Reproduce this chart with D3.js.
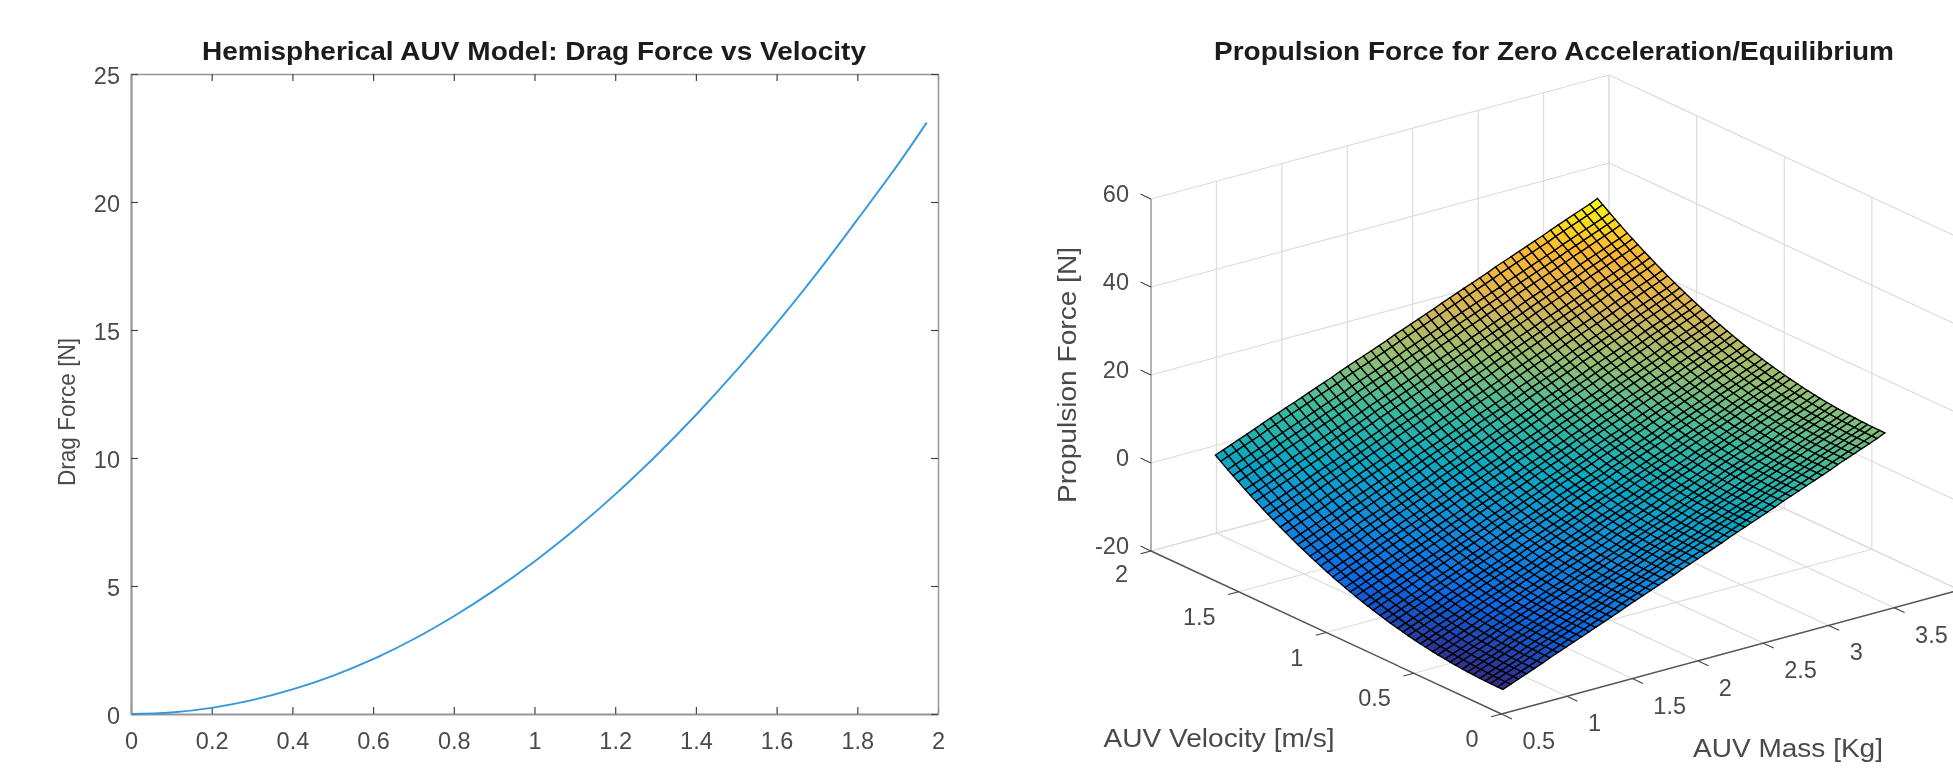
<!DOCTYPE html>
<html>
<head>
<meta charset="utf-8">
<script src="https://d3js.org/d3.v7.min.js"></script>
<style>
  html, body { margin: 0; padding: 0; background: #fff; overflow: hidden; }
  text { font-family: "Liberation Sans", Arial, sans-serif; }
</style>
</head>
<body>
<div id="drawing"></div>
<script>
const width = 1953;
const height = 769;

// left plot
const dragVelocity = [0, 0.1, 0.2, 0.3, 0.4, 0.5, 0.6, 0.7, 0.8, 0.9, 1, 1.1, 1.2, 1.3, 1.4, 1.5, 1.6, 1.7, 1.8, 1.9, 1.972];
const dragForce = [0, 0.06, 0.24, 0.54, 0.96, 1.49, 2.14, 2.92, 3.82, 4.83, 5.96, 7.21, 8.58, 10.07, 11.68, 13.41, 15.26, 17.22, 19.31, 21.45, 23.1];
const dragXTicks = [0, 0.2, 0.4, 0.6, 0.8, 1, 1.2, 1.4, 1.6, 1.8, 2];
const dragYTicks = [0, 5, 10, 15, 20, 25];

// right plot: mesh lines in each direction. The surface is additive in the picture,
// so the height of a node = force along the front mass edge + rise along the front velocity edge
const meshMass = [0.51, 0.57, 0.63, 0.69, 0.75, 0.81, 0.87, 0.93, 0.99, 1.05, 1.11, 1.17,
  1.22, 1.28, 1.34, 1.40, 1.46, 1.52, 1.58, 1.64, 1.70, 1.76, 1.82, 1.88, 1.94, 2.00, 2.06, 2.12, 2.18, 2.24, 2.30, 2.36,
  2.41, 2.47, 2.53, 2.59, 2.65, 2.71, 2.77, 2.83, 2.89, 2.95, 3.01, 3.07, 3.13, 3.19, 3.25, 3.31, 3.37, 3.43];
const massEdgeForce = [-14.5, -13.8, -13.1, -12.4, -11.7, -11.0, -10.2, -9.5, -8.8, -8.1, -7.4, -6.7,
  -6.1, -5.4, -4.7, -4.0, -3.2, -2.5, -1.8, -1.1, -0.4, 0.3, 1.0, 1.8, 2.5, 3.2, 3.9, 4.6, 5.3, 6.1, 6.8, 7.5,
  8.1, 8.8, 9.5, 10.2, 11.0, 11.7, 12.4, 13.1, 13.8, 14.5, 15.2, 16.0, 16.7, 17.4, 18.1, 18.8, 19.5, 20.3];
const meshVelocity = [0, 0.03, 0.07, 0.10, 0.13, 0.17, 0.20, 0.23, 0.27, 0.30,
  0.33, 0.37, 0.40, 0.44, 0.47, 0.50, 0.54, 0.57, 0.60, 0.64,
  0.67, 0.70, 0.74, 0.77, 0.80, 0.84, 0.87, 0.90, 0.94, 0.97,
  1.00, 1.04, 1.07, 1.10, 1.14, 1.17, 1.20, 1.24, 1.27, 1.31,
  1.34, 1.37, 1.41, 1.44, 1.47, 1.51, 1.54, 1.57, 1.61, 1.64];
const velocityEdgeRise = [0, 0.01, 0.03, 0.06, 0.11, 0.20, 0.28, 0.37, 0.52, 0.65,
  0.79, 1.00, 1.18, 1.44, 1.66, 1.89, 2.22, 2.49, 2.77, 3.17,
  3.49, 3.83, 4.30, 4.68, 5.07, 5.62, 6.05, 6.50, 7.11, 7.60,
  8.10, 8.80, 9.34, 9.90, 10.67, 11.26, 11.88, 12.72, 13.38, 14.28,
  14.98, 15.69, 16.67, 17.42, 18.19, 19.25, 20.06, 20.89, 22.02, 22.90];

const massTicks = [0.5, 1, 1.5, 2, 2.5, 3, 3.5, 4];
const velocityTicks = [0, 0.5, 1, 1.5, 2];
const forceTicks = [-20, 0, 20, 40, 60];
const parula = ["#352a87", "#0868e4", "#128ade", "#06a7c6", "#38b99e", "#92bf73", "#d8b555", "#fbb62e", "#f9fb0e"];

const svg = d3.select("#drawing").append("svg")
  .attr("width", width)
  .attr("height", height)
  .style("display", "block")
  .style("background", "#fff");

// the reference is a slightly soft screenshot
function softFilter(id, amount) {
  svg.append("filter").attr("id", id)
    .attr("x", "0").attr("y", "0").attr("width", "100%").attr("height", "100%")
    .attr("filterUnits", "userSpaceOnUse")
    .append("feGaussianBlur").attr("stdDeviation", amount);
}
softFilter("soft", 0.6);
softFilter("softer", 0.6);

const chart = svg.append("g").attr("filter", "url(#soft)");

const tickFont = 23.5;
const labelFont = 25.5;
const titleFont = 26.5;
const tickColor = "#4a4a4a";

// the screenshot was resized unevenly, so long texts get the width they have there
function stretched(parent, text, len, size) {
  return parent.append("text")
    .attr("text-anchor", "middle")
    .attr("font-size", size)
    .attr("fill", tickColor)
    .attr("textLength", len)
    .attr("lengthAdjust", "spacingAndGlyphs")
    .text(text);
}

function drawLeft() {
  const x = d3.scaleLinear().domain([0, 2]).range([131, 938]);
  const y = d3.scaleLinear().domain([0, 25]).range([714, 74]);
  const g = chart.append("g");

  const axes = [
    { axis: d3.axisBottom(x), at: [0, 714], labels: true, pad: 18 },
    { axis: d3.axisTop(x), at: [0, 74], labels: false, pad: 3 },
    { axis: d3.axisLeft(y), at: [131, 0], labels: true, pad: 11 },
    { axis: d3.axisRight(y), at: [938, 0], labels: false, pad: 3 }
  ];
  axes.forEach((a, i) => {
    const ticks = i < 2 ? dragXTicks : dragYTicks;
    const ag = g.append("g")
      .attr("transform", `translate(${a.at[0]},${a.at[1]})`)
      .call(a.axis.tickValues(ticks).tickSizeInner(-7).tickSizeOuter(0).tickPadding(a.pad)
        .tickFormat(a.labels ? d3.format("") : ""));
    ag.select(".domain").attr("stroke", "#969696").attr("stroke-width", i == 0 || i == 2 ? 2.2 : 1.5);
    ag.selectAll(".tick line").attr("stroke", "#444").attr("stroke-width", 1.2);
    ag.selectAll(".tick text").attr("fill", tickColor).style("font-size", tickFont + "px").attr("font-family", null);
    if (i == 2) ag.selectAll(".tick text").attr("dy", "0.42em");
  });

  const line = d3.line()
    .x((d, i) => x(dragVelocity[i]))
    .y((d) => y(d))
    .curve(d3.curveCatmullRom);
  g.append("path")
    .attr("d", line(dragForce))
    .attr("fill", "none")
    .attr("stroke", "#3498dc")
    .attr("stroke-width", 1.9);

  stretched(g, "Hemispherical AUV Model: Drag Force vs Velocity", 664, titleFont)
    .attr("x", 534).attr("y", 60)
    .attr("font-weight", "bold")
    .attr("fill", "#1a1a1a");
  stretched(g, "Drag Force [N]", 148, 24)
    .attr("transform", "translate(75,412) rotate(-90)");
  // runs off the bottom of the reference
  stretched(g, "AUV Velocity [m/s]", 231, labelFont)
    .attr("x", 538).attr("y", 788);
}

function drawRight() {
  // axonometric view built from one scale per screen direction
  const massX = d3.scaleLinear().domain([0.5, 4]).range([0, 458]);
  const massY = d3.scaleLinear().domain([0.5, 4]).range([0, -124]);
  const velX = d3.scaleLinear().domain([0, 2]).range([0, -350.5]);
  const velY = d3.scaleLinear().domain([0, 2]).range([0, -163]);
  const forceY = d3.scaleLinear().domain([-20, 60]).range([0, -352]);
  const project = (m, v, f) => [1501.5 + massX(m) + velX(v), 714 + massY(m) + velY(v) + forceY(f)];

  const g = chart.append("g");
  const seg = (a, b, color, w) => g.append("line")
    .attr("x1", a[0]).attr("y1", a[1]).attr("x2", b[0]).attr("y2", b[1])
    .attr("stroke", color).attr("stroke-width", w);

  // grid on the floor and the two back walls
  const gridColor = "#dcdcdc";
  massTicks.forEach((m) => {
    seg(project(m, 0, -20), project(m, 2, -20), gridColor, 1.2);
    seg(project(m, 2, -20), project(m, 2, 60), gridColor, 1.2);
  });
  velocityTicks.forEach((v) => {
    seg(project(0.5, v, -20), project(4, v, -20), gridColor, 1.2);
    seg(project(4, v, -20), project(4, v, 60), gridColor, 1.2);
  });
  forceTicks.forEach((f) => {
    seg(project(0.5, 2, f), project(4, 2, f), gridColor, 1.2);
    seg(project(4, 2, f), project(4, 0, f), gridColor, 1.2);
  });

  // axes and ticks
  seg(project(0.5, 2, -20), project(0.5, 2, 60), "#8a8a8a", 1.2);
  seg(project(0.5, 0, -20), project(0.5, 2, -20), "#555", 1.4);
  seg(project(0.5, 0, -20), project(4, 0, -20), "#555", 1.4);
  massTicks.forEach((m) => seg(project(m, 0, -20), project(m, -0.06, -20), "#444", 1.1));
  velocityTicks.forEach((v) => seg(project(0.5, v, -20), project(0.42, v, -20), "#444", 1.1));
  forceTicks.forEach((f) => seg(project(0.5, 2, f), project(0.5, 2.06, f), "#444", 1.1));

  const label = (p, dx, dy, anchor, t) => g.append("text")
    .attr("x", p[0] + dx).attr("y", p[1] + dy)
    .attr("text-anchor", anchor)
    .attr("font-size", tickFont)
    .attr("fill", tickColor)
    .text(t);
  massTicks.filter((m) => m < 4).forEach((m) => label(project(m, 0, -20), 21, 35, "start", m));
  velocityTicks.forEach((v) => label(project(0.5, v, -20), -23, v == 2 ? 31 : 33, "end", v));
  forceTicks.forEach((f) => label(project(0.5, 2, f), -22, 3, "end", f));

  // surface, back cells first
  const cells = [];
  for (let i = meshMass.length - 2; i >= 0; i--) {
    for (let j = meshVelocity.length - 2; j >= 0; j--) {
      const corners = [[i, j], [i + 1, j], [i + 1, j + 1], [i, j + 1]];
      cells.push({
        pts: corners.map((c) => project(meshMass[c[0]], meshVelocity[c[1]], massEdgeForce[c[0]] + velocityEdgeRise[c[1]])),
        f: d3.mean(corners, (c) => massEdgeForce[c[0]] + velocityEdgeRise[c[1]])
      });
    }
  }
  const zMin = massEdgeForce[0];
  const zMax = massEdgeForce[massEdgeForce.length - 1] + velocityEdgeRise[velocityEdgeRise.length - 1];
  const color = d3.scaleLinear()
    .domain(parula.map((c, i) => zMin + (zMax - zMin) * i / (parula.length - 1)))
    .range(parula);

  g.append("g").attr("filter", "url(#softer)").selectAll(".cell")
    .data(cells)
    .enter()
    .append("polygon")
      .attr("class", "cell")
      .attr("points", (d) => d.pts.map((p) => p.join(",")).join(" "))
      .style("fill", (d) => color(d.f))
      .style("stroke", "#000")
      .style("stroke-width", 1.35);

  stretched(g, "Propulsion Force for Zero Acceleration/Equilibrium", 680, titleFont)
    .attr("x", 1554).attr("y", 60)
    .attr("font-weight", "bold")
    .attr("fill", "#1a1a1a");
  stretched(g, "Propulsion Force [N]", 256, labelFont)
    .attr("transform", "translate(1076,375) rotate(-90)");
  stretched(g, "AUV Velocity [m/s]", 231, labelFont)
    .attr("x", 1219).attr("y", 747);
  stretched(g, "AUV Mass [Kg]", 190, labelFont)
    .attr("x", 1788).attr("y", 757);
}

drawLeft();
drawRight();
</script>
</body>
</html>
